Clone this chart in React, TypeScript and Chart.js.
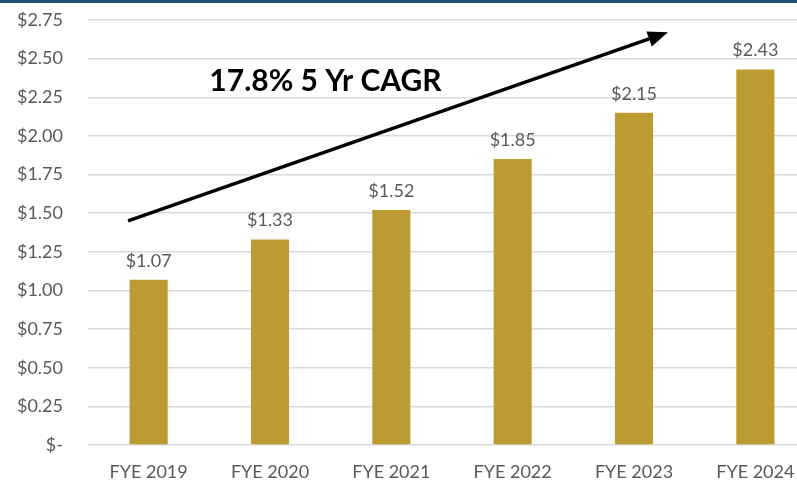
import React, { useEffect, useRef } from "react";
import { Chart, registerables } from "chart.js";

Chart.register(...registerables);

const categories = ["FYE 2019", "FYE 2020", "FYE 2021", "FYE 2022", "FYE 2023", "FYE 2024"];
const values = [1.07, 1.33, 1.52, 1.85, 2.15, 2.43];
const yTicks = [0, 0.25, 0.5, 0.75, 1.0, 1.25, 1.5, 1.75, 2.0, 2.25, 2.5, 2.75];
const cagrText = "17.8% 5 Yr CAGR";
// arrow annotation in data units: [category index, value]
const arrowStart = [-0.17, 1.45];
const arrowEnd = [4.28, 2.67];
const textAnchor = [0.5, 2.29];

const GOLD = "#BD9B33";
const GREY = "#595959";
const FONT = "Lato, 'Open Sans', sans-serif";

const overlayPlugin = {
  id: "overlay",
  afterDatasetsDraw(chart: any) {
    const ctx = chart.ctx;
    const meta = chart.getDatasetMeta(0);
    ctx.save();
    ctx.fillStyle = GREY;
    ctx.font = `18px ${FONT}`;
    ctx.textAlign = "center";
    ctx.textBaseline = "alphabetic";
    meta.data.forEach((bar: any, i: number) => {
      ctx.fillText("$" + values[i].toFixed(2), bar.x, bar.y - 13);
    });
    const xs = chart.scales.x;
    const ys = chart.scales.y;
    const x1 = xs.getPixelForValue(arrowStart[0]);
    const y1 = ys.getPixelForValue(arrowStart[1]);
    const x2 = xs.getPixelForValue(arrowEnd[0]);
    const y2 = ys.getPixelForValue(arrowEnd[1]);
    const ang = Math.atan2(y2 - y1, x2 - x1);
    const headLen = 20;
    const headW = 8;
    const bx = x2 - headLen * Math.cos(ang);
    const by = y2 - headLen * Math.sin(ang);
    ctx.strokeStyle = "#000";
    ctx.lineWidth = 3.5;
    ctx.beginPath();
    ctx.moveTo(x1, y1);
    ctx.lineTo(bx, by);
    ctx.stroke();
    ctx.fillStyle = "#000";
    ctx.beginPath();
    ctx.moveTo(x2, y2);
    ctx.lineTo(bx + headW * Math.sin(ang), by - headW * Math.cos(ang));
    ctx.lineTo(bx - headW * Math.sin(ang), by + headW * Math.cos(ang));
    ctx.closePath();
    ctx.fill();
    ctx.font = `bold 30px ${FONT}`;
    ctx.textAlign = "left";
    ctx.fillText(cagrText, xs.getPixelForValue(textAnchor[0]), ys.getPixelForValue(textAnchor[1]));
    ctx.restore();
  },
};

export default function App() {
  const ref = useRef<HTMLCanvasElement>(null);
  useEffect(() => {
    if (!ref.current) return;
    const chart = new Chart(ref.current, {
      type: "bar",
      data: {
        labels: categories,
        datasets: [
          {
            data: values,
            backgroundColor: GOLD,
            categoryPercentage: 1,
            barPercentage: 0.314,
          },
        ],
      },
      options: {
        responsive: false,
        animation: false,
        layout: { padding: { top: 20, right: 0, left: 0, bottom: 0 } },
        plugins: { legend: { display: false }, tooltip: { enabled: false } },
        scales: {
          x: {
            grid: { display: false, drawTicks: false },
            border: { display: false },
            afterFit: (scale: any) => {
              scale.height = 35;
              scale.paddingLeft = 0;
              scale.paddingRight = 0;
            },
            ticks: { color: GREY, font: { family: FONT, size: 18 }, padding: 16 },
          },
          y: {
            min: 0,
            max: 2.75,
            afterBuildTicks: (scale: any) => {
              scale.ticks = yTicks.map((v) => ({ value: v }));
            },
            afterFit: (scale: any) => {
              scale.width = 88;
              scale.paddingTop = 0;
              scale.paddingBottom = 0;
            },
            grid: { color: "#D9D9D9", lineWidth: 1.5, drawTicks: false },
            border: { display: false },
            ticks: {
              color: GREY,
              font: { family: FONT, size: 18 },
              padding: 25,
              callback: (v: any) => (Number(v) === 0 ? "$-" : "$" + Number(v).toFixed(2)),
            },
          },
        },
      },
      plugins: [overlayPlugin],
    });
    return () => chart.destroy();
  }, []);
  return (
    <div
      style={{
        position: "fixed",
        left: 0,
        top: 0,
        width: 797,
        height: 480,
        overflow: "hidden",
        background: "#fff",
      }}
    >
      <canvas ref={ref} width={816} height={480} style={{ display: "block" }} />
      <div
        style={{
          position: "absolute",
          left: 0,
          top: 0,
          width: 797,
          height: 3,
          background: "#1F4E79",
        }}
      />
    </div>
  );
}
